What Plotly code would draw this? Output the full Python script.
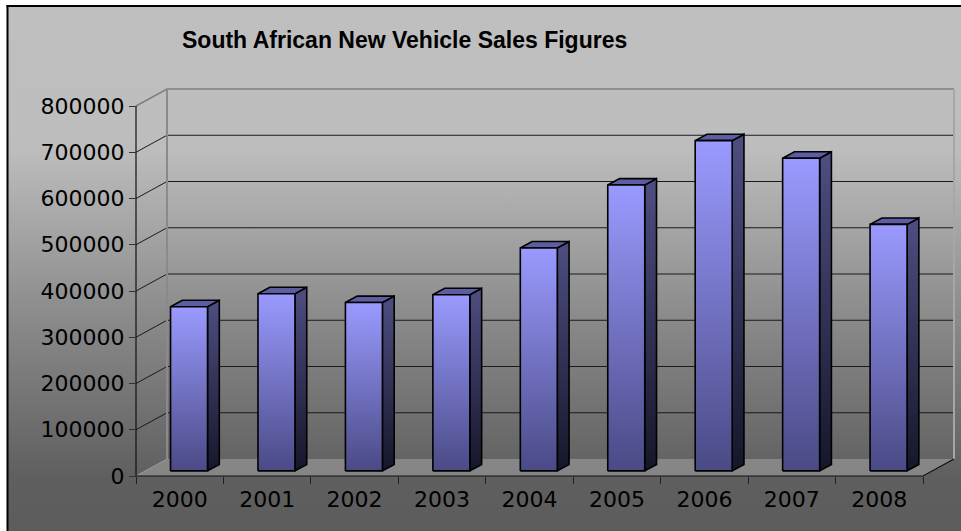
import plotly.graph_objects as go

# Annual new vehicle sales, South Africa
years = ["2000", "2001", "2002", "2003", "2004", "2005", "2006", "2007", "2008"]
sales = [355000, 383000, 364000, 381000, 482000, 618000, 714000, 676000, 533000]
y_ticks = [0, 100000, 200000, 300000, 400000, 500000, 600000, 700000, 800000]
title_text = "South African New Vehicle Sales Figures"

W, H = 961, 531

# pixel geometry of the pseudo-3D frame
FRONT_L, FRONT_R = 136, 923        # front x-axis ends (px)
ZERO_PX, TOP_PX = 476, 106         # y=0 and y=800000 on the front axis (px)
DEPTH_PX_X, DEPTH_PX_Y = 31, 17    # wall depth offset (px)
n = len(years)
CW = (FRONT_R - FRONT_L) / n                 # px per category
KY = (ZERO_PX - TOP_PX) / y_ticks[-1]        # px per unit of sales
DX = DEPTH_PX_X / CW                         # depth in x data units
DY = DEPTH_PX_Y / KY                         # depth in y data units

# plot area (px) a little larger than the frame so edge lines are not clipped
AX_L, AX_R, AX_T, AX_B = 130, 957, 85, 481
x_range = [-0.5 - (FRONT_L - AX_L) / CW, -0.5 + (AX_R - FRONT_L) / CW]
y_range = [-(AX_B - ZERO_PX) / KY, (ZERO_PX - AX_T) / KY]

F0, F1 = 0.30, 0.68      # front / back depth fraction of the columns
HW = 0.2115              # half column width (category units)

fig = go.Figure()

# chart-area background gradient (own full-page axes, drawn past the edges)
bx0, by1 = 8 / W, 1 - 7 / H
fig.add_trace(go.Scatter(
    x=[bx0, 1.05, 1.05, bx0, bx0], y=[-0.05, -0.05, by1, by1, -0.05],
    xaxis="x", yaxis="y",
    mode="none", fill="toself",
    fillgradient=dict(type="vertical", start=0, stop=1,
                      colorscale=[[0, "#5c5c5c"], [0.10, "#5f5f5f"],
                                  [0.40, "#8a8a8a"], [0.72, "#bdbdbd"],
                                  [1, "#bfbfbf"]]),
    hoverinfo="skip", showlegend=False))


def poly(xs, ys, **kw):
    fig.add_trace(go.Scatter(x=xs + [xs[0]], y=ys + [ys[0]], xaxis="x2", yaxis="y2",
                             mode="lines", hoverinfo="skip", showlegend=False, **kw))


def seg(xs, ys, color, width):
    fig.add_trace(go.Scatter(x=xs, y=ys, xaxis="x2", yaxis="y2", mode="lines",
                             line=dict(color=color, width=width),
                             hoverinfo="skip", showlegend=False))


xl, xr = -0.5, n - 0.5

# floor
poly([xl, xr, xr + DX, xl + DX], [0, 0, DY, DY],
     line=dict(width=0), fill="toself", fillcolor="#868686")

# back-wall gridlines with their connectors on the side wall
for v in y_ticks[1:-1]:
    seg([xl, xl + DX, xr + DX], [v, v + DY, v + DY], "#1a1a1a", 1)
top = y_ticks[-1]
seg([xl, xl + DX, xr + DX], [top, top + DY, top + DY], "#7f7f7f", 1.5)
seg([xl + DX, xl + DX], [DY, top + DY], "#8a8a8a", 2)
seg([xr + DX, xr + DX], [DY, top + DY], "#a6a6a6", 2)
seg([xl, xl + DX], [0, DY], "#9a9a9a", 1)

# floor edges and front value axis
seg([xl, xr, xr + DX], [0, 0, DY], "#111111", 1.2)
seg([xl, xl], [0, top], "#111111", 1.2)

# columns
edge = dict(color="#000000", width=1.6)
for i, v in enumerate(sales):
    fx0 = i + F0 * DX - HW
    fx1 = i + F0 * DX + HW
    bx1 = i + F1 * DX + HW
    bx0_ = i + F1 * DX - HW
    fy, by = F0 * DY, F1 * DY
    # side face
    poly([fx1, bx1, bx1, fx1], [fy, by, v + by, v + fy], line=edge, fill="toself",
         fillgradient=dict(type="vertical",
                           colorscale=[[0, "#16162a"], [1, "#4e4e82"]]))
    # top face
    poly([fx0, fx1, bx1, bx0_], [v + fy, v + fy, v + by, v + by], line=edge,
         fill="toself", fillcolor="#5d5da2")
    # front face
    poly([fx0, fx1, fx1, fx0], [fy, fy, v + fy, v + fy], line=edge, fill="toself",
         fillgradient=dict(type="vertical",
                           colorscale=[[0, "#4a4a86"], [1, "#9a9aff"]]))

tick_font = dict(family="DejaVu Sans, Liberation Sans, Arial", size=22, color="#000000")

fig.update_layout(
    width=W, height=H,
    margin=dict(l=0, r=0, t=0, b=0, pad=0),
    paper_bgcolor="#ffffff", plot_bgcolor="rgba(0,0,0,0)",
    showlegend=False,
    xaxis=dict(domain=[0, 1], range=[0, 1], visible=False, fixedrange=True,
               automargin=False),
    yaxis=dict(domain=[0, 1], range=[0, 1], visible=False, fixedrange=True,
               automargin=False),
    xaxis2=dict(domain=[AX_L / W, AX_R / W], range=x_range, anchor="free",
                position=1 - ZERO_PX / H, automargin=False,
                tickmode="array", tickvals=list(range(n)), ticktext=years,
                ticks="", ticklabelstandoff=8,
                showgrid=False, zeroline=False, showline=False,
                tickfont=tick_font,
                minor=dict(tickmode="array",
                           tickvals=[k - 0.5 for k in range(n + 1)],
                           ticks="outside", ticklen=7, tickwidth=1,
                           tickcolor="#222222", showgrid=False)),
    yaxis2=dict(domain=[1 - AX_B / H, 1 - AX_T / H], range=y_range, anchor="free",
                position=FRONT_L / W, automargin=False,
                tickmode="array", tickvals=y_ticks,
                ticktext=[str(v) for v in y_ticks],
                ticks="outside", ticklen=7, tickwidth=1, tickcolor="#333333",
                showgrid=False, zeroline=False, showline=False,
                tickfont=tick_font),
    shapes=[
        dict(type="line", xref="paper", yref="paper", x0=7.5 / W, x1=7.5 / W,
             y0=0, y1=1 - 5 / H, line=dict(color="#000000", width=2)),
        dict(type="line", xref="paper", yref="paper", x0=6.5 / W, x1=1,
             y0=1 - 6 / H, y1=1 - 6 / H, line=dict(color="#000000", width=2)),
    ],
    annotations=[dict(text="<b>" + title_text + "</b>", xref="paper", yref="paper",
                      x=404 / W, y=1 - 40 / H, xanchor="center", yanchor="middle",
                      showarrow=False,
                      font=dict(family="Liberation Sans, Arial", size=23,
                                color="#000000"))],
)

fig.write_html("out.html")
